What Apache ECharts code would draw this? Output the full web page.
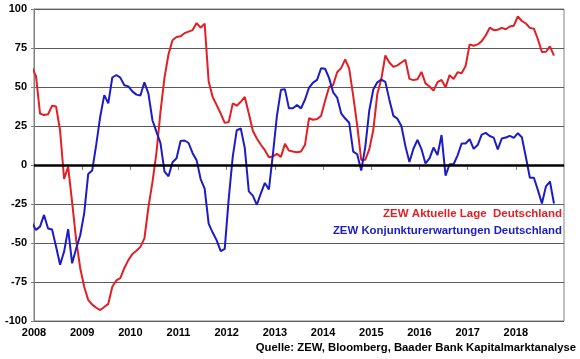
<!DOCTYPE html>
<html><head><meta charset="utf-8">
<script src="https://cdn.jsdelivr.net/npm/echarts@6/dist/echarts.min.js"></script>
<style>html,body{margin:0;padding:0;background:#fff}#c{width:580px;height:359px}</style>
</head><body><div id="c"></div>
<script>
// monthly data, first value = Dec 2007
const firstYear = 2007, firstMonth = 12;
const lageValues = [
  62.5,
  57, 33, 32, 32.5, 38, 37.5, 22, -9, -1, -24, -48, -66,
  -78, -86.5, -89.5, -91.5, -93, -91, -89, -78, -74, -72.5, -66, -61,
  -57, -55, -52.5, -47, -27, -11, 8, 34, 56, 71, 80, 82,
  82.5, 84.5, 85.5, 86.5, 91, 88, 90.6, 53.5, 43.6, 38.4, 33, 27,
  27.5, 39.5, 38, 40.5, 43.6, 33, 22, 17, 13, 9.5, 5, 5.5,
  7.1, 5.2, 13.6, 9.2, 8.6, 8.2, 8.6, 13, 30, 29, 29.5, 31.5,
  41.2, 50.0, 51.3, 59.5, 62.1, 67.7, 61.8, 44.3, 25.4, 3.2, 3.3, 10.0,
  22.4, 45.5, 55.1, 70.2, 65.7, 62.9, 63.9, 65.7, 67.5, 55.2, 54.4, 55.0,
  59.7, 52.3, 50.3, 47.7, 53.1, 54.5, 49.8, 57.6, 55.1, 59.5, 58.8, 63.5,
  77.3, 76.4, 77.3, 79.4, 83.0, 88.0, 86.4, 86.7, 87.9, 87.0, 88.8, 89.3,
  95.2, 92.3, 90.7, 87.9, 87.4, 80.6, 72.4, 72.6, 76.0, 70.1
];
const erwartungenValues = [
  -37.2,
  -41.6, -39.5, -32.0, -40.7, -41.4, -52.4, -63.9, -55.5, -41.1, -63.0, -53.5, -45.2,
  -31.0, -5.8, -3.5, 13.0, 31.1, 44.8, 39.5, 56.1, 57.7, 56.0, 51.1, 50.4,
  47.2, 45.1, 44.5, 53.0, 45.8, 28.7, 21.2, 14.0, -4.3, -7.2, 1.8, 4.3,
  15.4, 15.7, 14.1, 7.6, 3.1, -9.0, -15.1, -37.6, -43.3, -48.3, -55.2, -53.8,
  -21.6, 5.4, 22.3, 23.4, 10.8, -16.9, -19.6, -25.5, -18.2, -11.5, -15.7, 6.9,
  31.5, 48.2, 48.5, 36.3, 36.4, 38.5, 36.3, 42.0, 49.6, 52.8, 54.6, 62.0,
  61.7, 55.7, 46.6, 43.2, 33.1, 29.8, 27.1, 8.6, 6.9, -3.6, 11.5, 34.9,
  48.4, 53.0, 54.8, 53.3, 41.9, 31.5, 29.7, 25.0, 12.1, 1.9, 10.4, 16.1,
  10.2, 1.0, 4.3, 11.2, 6.4, 19.2, -6.8, 0.5, 0.5, 6.2, 13.8, 13.8,
  16.6, 10.4, 12.8, 19.5, 20.6, 18.6, 17.5, 10.0, 17.0, 17.6, 18.7, 17.4,
  20.4, 17.8, 5.1, -8.2, -8.2, -16.1, -24.7, -13.7, -10.6, -24.7
];
const seriesNames = ['ZEW Aktuelle Lage  Deutschland', 'ZEW Konjunkturerwartungen Deutschland'];
const sourceText = 'Quelle: ZEW, Bloomberg, Baader Bank Kapitalmarktanalyse';
const xMin = 2008, xMax = 2019, xStep = 1;
const yMin = -100, yMax = 100, yStep = 25;

const RED = '#e31e24', BLUE = '#1c1cc6';
const FONT = "'Liberation Sans', Arial, sans-serif";

function toPairs(vals) {
  return vals.map((v, k) => {
    const m = firstMonth - 1 + k;
    return [firstYear + (m + 0.5) / 12, v];
  });
}

const chart = echarts.init(document.getElementById('c'), null, {renderer: 'canvas'});
chart.setOption({
  animation: false,
  backgroundColor: '#fff',
  grid: {left: 34, right: 16, top: 9, bottom: 38, show: true, borderColor: '#808080', borderWidth: 1, containLabel: false},
  xAxis: {
    type: 'value', min: xMin, max: xMax, interval: xStep,
    axisLine: {show: true, lineStyle: {color: '#808080', width: 1}},
    axisTick: {show: true, length: 5, lineStyle: {color: '#808080'}},
    splitLine: {show: false},
    axisLabel: {color: '#000', fontFamily: FONT, fontWeight: 'bold', fontSize: 11, margin: 6,
      showMaxLabel: false, formatter: v => String(Math.round(v))}
  },
  yAxis: {
    type: 'value', min: yMin, max: yMax, interval: yStep,
    axisLine: {show: true, lineStyle: {color: '#808080', width: 1}},
    axisTick: {show: true, length: 3, lineStyle: {color: '#808080'}},
    splitLine: {show: true, lineStyle: {color: '#5a5a5a', width: 1}},
    axisLabel: {color: '#000', fontFamily: FONT, fontWeight: 'bold', fontSize: 11, margin: 7}
  },
  series: [
    {
      name: seriesNames[0], type: 'line', data: toPairs(lageValues),
      showSymbol: false, symbol: 'none', clip: true,
      lineStyle: {color: RED, width: 2}, itemStyle: {color: RED},
      markLine: {silent: true, symbol: 'none', label: {show: false},
        lineStyle: {color: '#000', width: 2.5, type: 'solid'}, data: [{yAxis: 0}]}
    },
    {
      name: seriesNames[1], type: 'line', data: toPairs(erwartungenValues),
      showSymbol: false, symbol: 'none', clip: true,
      lineStyle: {color: BLUE, width: 2}, itemStyle: {color: BLUE}
    }
  ],
  graphic: [
    {type: 'text', right: 18, top: 208, style: {text: seriesNames[0], fill: RED, font: 'bold 11.5px ' + FONT}},
    {type: 'text', right: 18, top: 225, style: {text: seriesNames[1], fill: BLUE, font: 'bold 11.4px ' + FONT}},
    {type: 'text', right: 4, top: 342, style: {text: sourceText, fill: '#000', font: 'bold 11.3px ' + FONT}}
  ]
});
</script>
</body></html>
